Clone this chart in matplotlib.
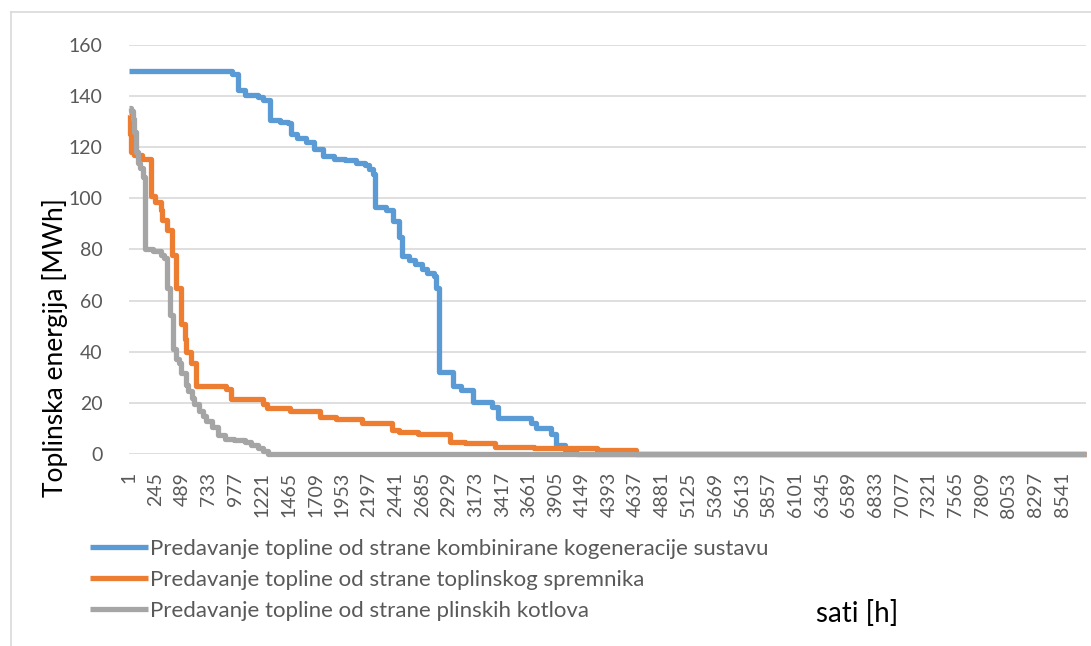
import matplotlib
matplotlib.use("Agg")
import matplotlib.pyplot as plt
from matplotlib.lines import Line2D

plt.rcParams['font.family'] = ['Lato', 'DejaVu Sans']

HOURS = 8760

# duration curves: hour where each level starts, level in MWh
chp_hours = [1, 945, 1000, 1060, 1180, 1230, 1290, 1380, 1460, 1480, 1540, 1620, 1690,
             1780, 1880, 1980, 2080, 2160, 2200, 2230, 2250, 2350, 2420, 2470, 2500,
             2560, 2620, 2680, 2730, 2790, 2810, 2840, 2970, 3040, 3150, 3320, 3380,
             3680, 3730, 3860, 3910, 3990, 4050, 4100]
chp_vals = [150, 148.5, 142.5, 140.5, 139.5, 138.5, 130.5, 130, 129.5, 125, 123.5, 122,
            119.5, 116.5, 115.5, 115, 114, 113, 111.5, 109.5, 96.5, 95.5, 91, 85, 77.5,
            76, 74.5, 72.5, 71, 69.5, 65, 32.2, 26.5, 25, 20.5, 18.5, 14, 12, 10, 8,
            3.5, 1.5, 0.5, 0]

storage_hours = [1, 10, 20, 50, 120, 205, 240, 290, 300, 345, 390, 435, 475, 510, 525,
                 570, 610, 890, 930, 1230, 1260, 1470, 1750, 1900, 2130, 2410, 2470,
                 2650, 2940, 3080, 3350, 3710, 4280, 4640]
storage_vals = [133, 125, 118, 117, 115.5, 101, 98.5, 95.5, 91.5, 87.5, 78, 65, 51, 45,
                40, 35.5, 26.5, 25.5, 21.5, 19.5, 17.8, 16.8, 14.6, 13.8, 12, 9.4, 8.8,
                8, 4.8, 4.2, 2.9, 2.3, 1.5, 0]

boiler_hours = [1, 20, 35, 50, 65, 85, 105, 130, 145, 220, 290, 325, 345, 375, 400, 430,
                460, 480, 520, 545, 575, 600, 640, 680, 710, 760, 820, 880, 960, 1060,
                1120, 1180, 1230, 1270]
boiler_vals = [135.5, 134, 131, 126, 118, 114, 112, 108.5, 80, 79.3, 78, 76.5, 65, 54.5,
               41, 37, 35.5, 31.5, 27, 24.5, 22, 19.5, 17, 15, 13, 10.5, 7.5, 6, 5.5,
               4.5, 3.5, 2.5, 1, 0]

series = [
    ("Predavanje topline od strane kombinirane kogeneracije sustavu", chp_hours, chp_vals, "#5B9BD5"),
    ("Predavanje topline od strane toplinskog spremnika", storage_hours, storage_vals, "#ED7D31"),
    ("Predavanje topline od strane plinskih kotlova", boiler_hours, boiler_vals, "#A5A5A5"),
]

tick_hours = list(range(1, HOURS + 1, 244))

W, H = 1091, 646
fig = plt.figure(figsize=(W / 100, H / 100), dpi=100)
ax = fig.add_axes([129 / W, 1 - 454 / H, (1086 - 129) / W, (454 - 45) / H])

for label, hrs, vals, color in series:
    ax.plot(hrs + [HOURS], vals + [vals[-1]], drawstyle="steps-post", color=color,
            lw=3.8, label=label, solid_joinstyle="round", solid_capstyle="butt",
            clip_on=False)

ax.set_xlim(1, HOURS)
ax.set_ylim(0, 160)
ax.set_yticks(range(0, 161, 20))
ax.set_xticks(tick_hours)
ax.set_xticklabels([str(h) for h in tick_hours], rotation=90, va="top", ha="center")
ax.tick_params(axis="both", length=0, labelsize=14, labelcolor="#595959")
ax.tick_params(axis="y", pad=19)
ax.tick_params(axis="x", pad=13)
ax.grid(axis="y", color="#D9D9D9", lw=1.2)
ax.set_axisbelow(True)
for s in ax.spines.values():
    s.set_visible(False)

fig.text(55 / W, 1 - 348 / H, "Toplinska energija [MWh]", rotation=90,
         ha="center", va="center", fontsize=19, color="black")
fig.text(857 / W, 1 - 614 / H, "sati [h]", ha="center", va="center",
         fontsize=20, color="black")

leg = ax.legend(loc="upper left", bbox_to_anchor=(90 / W, 1 - 539 / H),
                bbox_transform=fig.transFigure, frameon=False, fontsize=16,
                handlelength=2.6, handletextpad=0.12, labelspacing=0.5,
                borderpad=0, borderaxespad=0)
for t in leg.get_texts():
    t.set_color("#595959")

# chart area frame
fig.add_artist(Line2D([11.5 / W, 11.5 / W], [1 - 12 / H, 0], transform=fig.transFigure,
                      color="#D9D9D9", lw=1.2))
fig.add_artist(Line2D([11 / W, 1], [1 - 12 / H, 1 - 12 / H], transform=fig.transFigure,
                      color="#D9D9D9", lw=1.2))

fig.savefig("out.png", dpi=100)
